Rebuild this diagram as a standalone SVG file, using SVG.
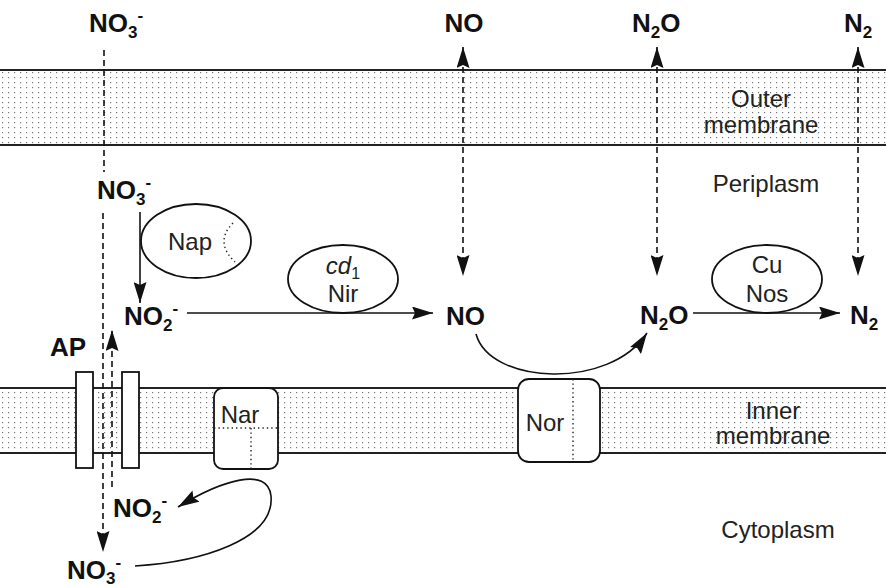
<svg xmlns="http://www.w3.org/2000/svg" width="886" height="588" viewBox="0 0 886 588">
<style>
.b{font-family:"Liberation Sans",Arial,sans-serif;font-weight:bold;font-size:26px;fill:#111}
.sub{font-size:17px}
.r{font-family:"Liberation Sans",Arial,sans-serif;font-size:24px;fill:#222}
.mid{text-anchor:middle}
.ln{fill:none;stroke:#111;stroke-width:1.6}
.dash{fill:none;stroke:#111;stroke-width:1.6;stroke-dasharray:6 4}
.dot{fill:none;stroke:#222;stroke-width:1.4;stroke-dasharray:1.4 3}
.box{fill:#fff;stroke:#111;stroke-width:1.8}
.mline{stroke:#222;stroke-width:2}
</style>
<defs>
<pattern id="stip" width="6" height="5" patternUnits="userSpaceOnUse">
<rect x="2" y="2" width="1.2" height="1.2" fill="#777"/>
</pattern>
<marker id="ah" viewBox="0 0 21 13" refX="21" refY="6.5" markerWidth="21" markerHeight="13" markerUnits="userSpaceOnUse" orient="auto-start-reverse">
<path d="M0,0 L21,6.5 L0,13 L3,6.5 Z" fill="#111"/>
</marker>
</defs>
<g id="membranes">
<rect x="0" y="70" width="886" height="75" fill="url(#stip)"/>
<line class="mline" x1="0" y1="70" x2="886" y2="70"/>
<line class="mline" x1="0" y1="145" x2="886" y2="145"/>
<rect x="0" y="388" width="886" height="65" fill="url(#stip)"/>
<line class="mline" x1="0" y1="388" x2="886" y2="388"/>
<line class="mline" x1="0" y1="453" x2="886" y2="453"/>
</g>
<g id="connectors">
<line class="dash" x1="104" y1="50" x2="104" y2="172"/>
<line class="dash" x1="103" y1="213" x2="103" y2="552" marker-end="url(#ah)"/>
<line class="dash" x1="112" y1="487" x2="112" y2="330" marker-end="url(#ah)"/>
<line class="dash" x1="463" y1="47" x2="463" y2="276" marker-start="url(#ah)" marker-end="url(#ah)"/>
<line class="dash" x1="657" y1="47" x2="657" y2="276" marker-start="url(#ah)" marker-end="url(#ah)"/>
<line class="dash" x1="858" y1="47" x2="858" y2="276" marker-start="url(#ah)" marker-end="url(#ah)"/>
<line class="ln" x1="140" y1="212" x2="140" y2="303" marker-end="url(#ah)"/>
<line class="ln" x1="187" y1="313" x2="433" y2="313" marker-end="url(#ah)"/>
<line class="ln" x1="693" y1="313" x2="840" y2="313" marker-end="url(#ah)"/>
<path class="ln" d="M476,334 C490,385 610,390 647,333" marker-end="url(#ah)"/>
<path class="ln" d="M135,566 C200,562 275,540 271,496 C268,466 222,480 178,507" marker-end="url(#ah)"/>
</g>
<g id="node-ap">
<rect class="box" x="76" y="372" width="17" height="96"/>
<rect class="box" x="122" y="372" width="17" height="96"/>
<text class="b" x="50" y="356">AP</text>
</g>
<g id="node-nap">
<ellipse class="box" cx="196" cy="241" rx="55" ry="37"/>
<path class="dot" d="M233,223 Q214,242 235,262"/>
<text class="r mid" x="190" y="250">Nap</text>
</g>
<g id="node-nir">
<ellipse class="box" cx="343" cy="279" rx="55" ry="34"/>
<text class="r mid" x="343" y="274"><tspan font-style="italic">cd</tspan><tspan font-size="16" dy="5">1</tspan></text>
<text class="r mid" x="343" y="302">Nir</text>
</g>
<g id="node-nos">
<ellipse class="box" cx="767" cy="279" rx="55" ry="34"/>
<text class="r mid" x="767" y="273">Cu</text>
<text class="r mid" x="767" y="302">Nos</text>
</g>
<g id="node-nar">
<rect class="box" x="214" y="388" width="64" height="81" rx="9"/>
<line class="dot" x1="214" y1="428" x2="278" y2="428"/>
<line class="dot" x1="251" y1="428" x2="251" y2="469"/>
<text class="r mid" x="240" y="423">Nar</text>
</g>
<g id="node-nor">
<rect class="box" x="518" y="379" width="82" height="83" rx="11"/>
<line class="dot" x1="573" y1="379" x2="573" y2="462"/>
<text class="r mid" x="545" y="431">Nor</text>
</g>
<g id="labels">
<text class="b" x="89" y="32">NO<tspan class="sub" dy="6">3</tspan><tspan class="sub" dy="-17">-</tspan></text>
<text class="b mid" x="464" y="32">NO</text>
<text class="b" x="632" y="32">N<tspan class="sub" dy="6">2</tspan><tspan dy="-6">O</tspan></text>
<text class="b" x="844" y="32">N<tspan class="sub" dy="6">2</tspan></text>
<text class="b" x="97" y="199">NO<tspan class="sub" dy="6">3</tspan><tspan class="sub" dy="-17">-</tspan></text>
<text class="b" x="124" y="325">NO<tspan class="sub" dy="6">2</tspan><tspan class="sub" dy="-17">-</tspan></text>
<text class="b" x="446" y="325">NO</text>
<text class="b" x="640" y="324">N<tspan class="sub" dy="6">2</tspan><tspan dy="-6">O</tspan></text>
<text class="b" x="850" y="324">N<tspan class="sub" dy="6">2</tspan></text>
<text class="b" x="113" y="517">NO<tspan class="sub" dy="6">2</tspan><tspan class="sub" dy="-17">-</tspan></text>
<text class="b" x="67" y="579">NO<tspan class="sub" dy="5">3</tspan><tspan class="sub" dy="-16">-</tspan></text>
<text class="r mid" x="761" y="107">Outer</text>
<text class="r mid" x="761" y="133">membrane</text>
<text class="r mid" x="766" y="192">Periplasm</text>
<text class="r mid" x="773" y="419">Inner</text>
<text class="r mid" x="773" y="444">membrane</text>
<text class="r mid" x="778" y="538">Cytoplasm</text>
</g>
</svg>
